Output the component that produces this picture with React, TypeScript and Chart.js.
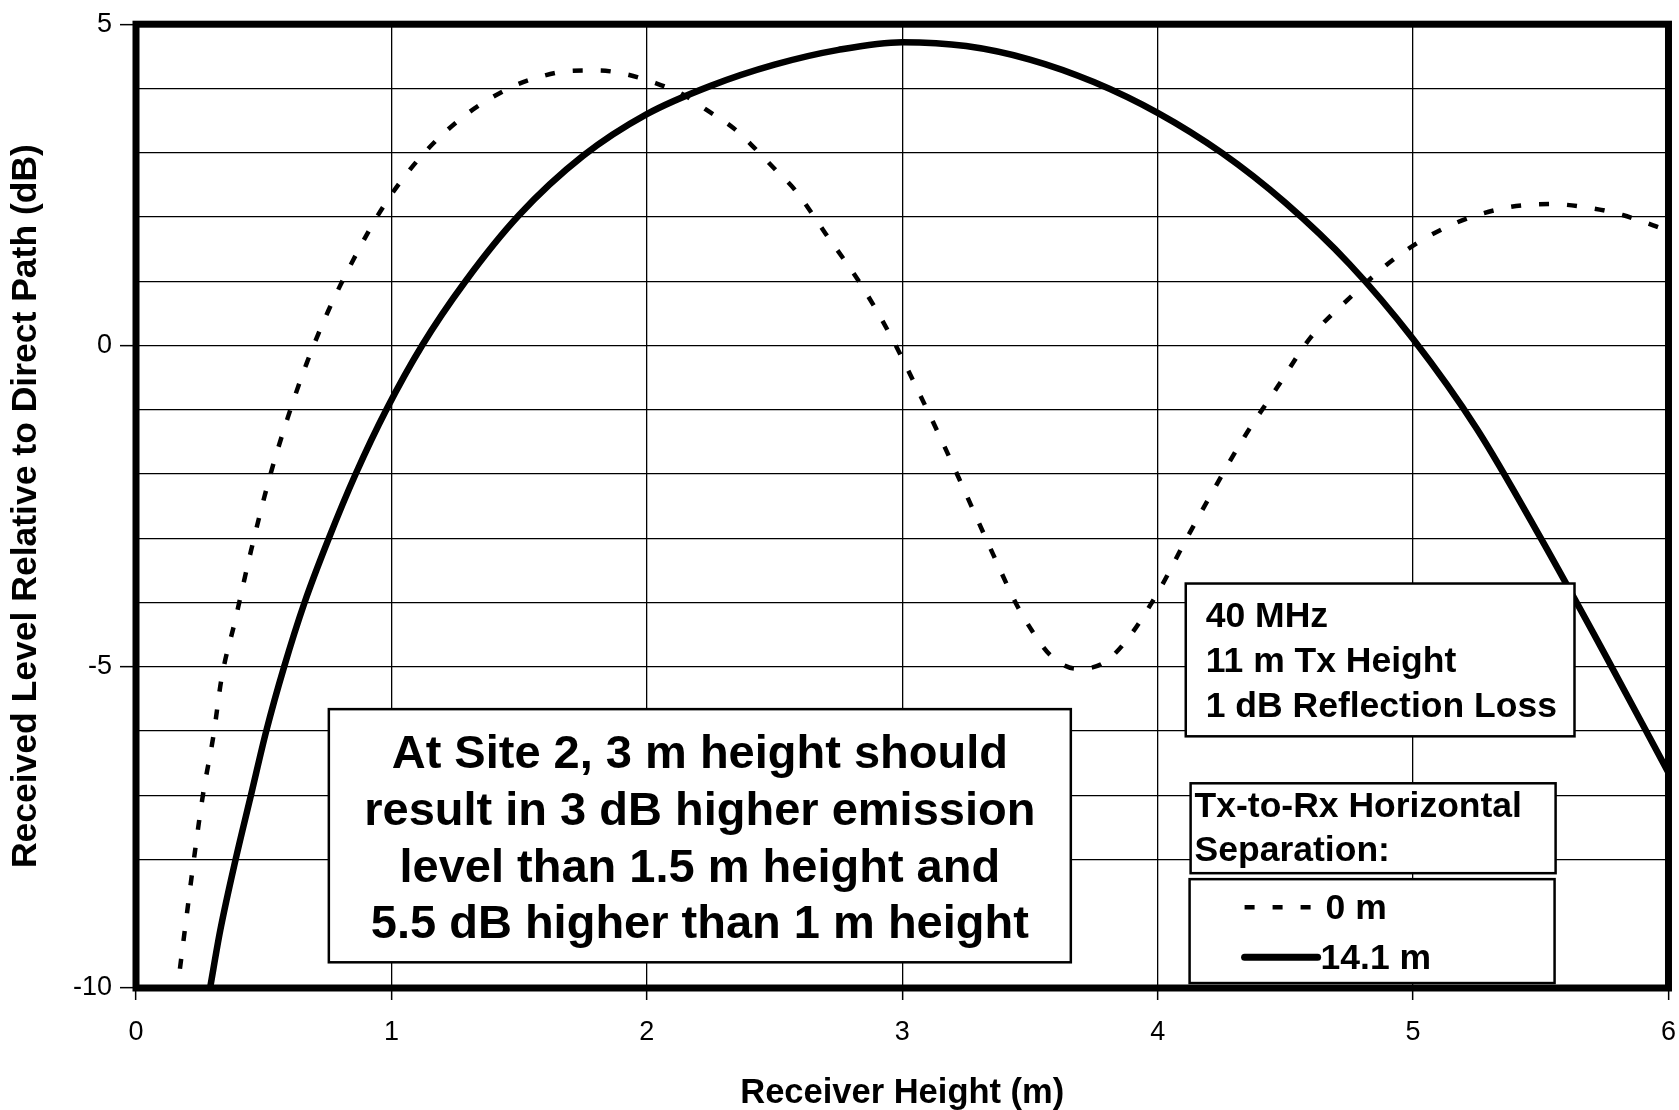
import React, { useEffect, useRef } from 'react';
import { Chart, registerables } from 'chart.js';

Chart.register(...registerables);

// ---- data ----
const X_MIN = 0;
const X_MAX = 6;
const Y_MIN = -10;
const Y_MAX = 5;
const yLabeledTicks = [5, 0, -5, -10];

// 0 m separation (dashed curve)
const sep0X = [0.172, 0.231, 0.263, 0.303, 0.335, 0.387, 0.45, 0.524, 0.592, 0.667, 0.753, 0.853, 0.968, 1.109, 1.275, 1.464, 1.58, 1.69, 1.81, 1.92, 2.03, 2.14, 2.24, 2.34, 2.42, 2.5, 2.58, 2.7, 2.838, 2.956, 3.06, 3.157, 3.255, 3.35, 3.45, 3.51, 3.58, 3.68, 3.78, 3.87, 4.0, 4.11, 4.22, 4.34, 4.47, 4.6, 4.76, 4.94, 5.14, 5.36, 5.54, 5.71, 5.82, 5.94, 6.0];
const sep0Y = [-9.7, -7.87, -6.97, -6.08, -5.18, -4.3, -3.2, -2.04, -1.15, -0.29, 0.54, 1.35, 2.16, 2.91, 3.54, 4.01, 4.18, 4.27, 4.28, 4.22, 4.09, 3.91, 3.65, 3.38, 3.08, 2.75, 2.42, 1.74, 0.95, 0.14, -0.69, -1.5, -2.36, -3.2, -4.05, -4.45, -4.82, -5.03, -4.96, -4.63, -3.85, -3.03, -2.24, -1.42, -0.64, 0.13, 0.77, 1.39, 1.86, 2.14, 2.2, 2.13, 2.03, 1.87, 1.78];

// 14.1 m separation (solid curve)
const sep14X = [0.29, 0.33, 0.39, 0.45, 0.51, 0.58, 0.66, 0.755, 0.86, 0.98, 1.12, 1.29, 1.5, 1.75, 2.0, 2.25, 2.5, 2.75, 3.0, 3.25, 3.5, 3.75, 4.0, 4.25, 4.5, 4.75, 5.0, 5.25, 5.5, 5.75, 6.0];
const sep14Y = [-10, -9.1, -8.0, -7.0, -6.0, -5.0, -4.0, -3.0, -2.0, -1.0, 0, 1, 2.03, 2.95, 3.6, 4.04, 4.37, 4.6, 4.72, 4.66, 4.45, 4.1, 3.62, 3.0, 2.22, 1.27, 0.1, -1.3, -3.0, -4.8, -6.65];

const seriesLabels = ['0 m', '14.1 m'];
const xTitle = 'Receiver Height (m)';
const yTitle = 'Received Level Relative to Direct Path (dB)';
const noteLines = [
  'At Site 2, 3 m height should',
  'result in 3 dB higher emission',
  'level than 1.5 m height and',
  '5.5 dB higher than 1 m height',
];
const infoLines = ['40 MHz', '11 m Tx Height', '1 dB Reflection Loss'];
const legendTitleLines = ['Tx-to-Rx Horizontal', 'Separation:'];

const FONT = '"Liberation Sans", Arial, Helvetica, sans-serif';
const DASH = [10, 18];

function toPoints(xs: number[], ys: number[]) {
  return xs.map((x, i) => ({ x, y: ys[i] }));
}

const framePlugin = {
  id: 'frame',
  afterDatasetsDraw(chart: any) {
    const { ctx, chartArea: a } = chart;
    ctx.save();
    ctx.strokeStyle = '#000';
    ctx.lineWidth = 7;
    ctx.strokeRect(a.left, a.top, a.right - a.left, a.bottom - a.top);
    ctx.restore();
  },
};

function drawBox(ctx: any, xs: any, ys: any, x0: number, x1: number, y0: number, y1: number) {
  const l = xs.getPixelForValue(x0);
  const r = xs.getPixelForValue(x1);
  const t = ys.getPixelForValue(y0);
  const b = ys.getPixelForValue(y1);
  ctx.fillStyle = '#fff';
  ctx.fillRect(l, t, r - l, b - t);
  ctx.strokeStyle = '#000';
  ctx.lineWidth = 2.5;
  ctx.strokeRect(l, t, r - l, b - t);
  return { l, r, t, b };
}

const boxesPlugin = {
  id: 'boxes',
  afterDraw(chart: any) {
    const { ctx } = chart;
    const xs = chart.scales.x;
    const ys = chart.scales.y;
    ctx.save();
    ctx.textBaseline = 'alphabetic';

    // big note box
    const n = drawBox(ctx, xs, ys, 0.755, 3.66, -5.66, -9.6);
    ctx.fillStyle = '#000';
    ctx.font = `bold 47px ${FONT}`;
    ctx.textAlign = 'center';
    const cx = (n.l + n.r) / 2;
    noteLines.forEach((s, i) => ctx.fillText(s, cx, n.t + 59 + i * 56.7));

    // info box
    const inf = drawBox(ctx, xs, ys, 4.11, 5.632, -3.705, -6.083);
    ctx.fillStyle = '#000';
    ctx.font = `bold 35.5px ${FONT}`;
    ctx.textAlign = 'left';
    infoLines.forEach((s, i) => ctx.fillText(s, inf.l + 20, inf.t + 43 + i * 45));

    // legend title box
    const lt = drawBox(ctx, xs, ys, 4.129, 5.558, -6.814, -8.213);
    ctx.fillStyle = '#000';
    ctx.font = `bold 35.5px ${FONT}`;
    legendTitleLines.forEach((s, i) => ctx.fillText(s, lt.l + 4, lt.t + 34 + i * 44));

    // legend entries box
    const lg = drawBox(ctx, xs, ys, 4.125, 5.554, -8.306, -9.923);
    ctx.strokeStyle = '#000';
    ctx.lineWidth = 4.5;
    ctx.setLineDash(DASH);
    ctx.beginPath();
    ctx.moveTo(lg.l + 55, lg.t + 28);
    ctx.lineTo(lg.l + 122, lg.t + 28);
    ctx.stroke();
    ctx.setLineDash([]);
    ctx.lineWidth = 7;
    ctx.lineCap = 'round';
    ctx.beginPath();
    ctx.moveTo(lg.l + 55, lg.t + 78);
    ctx.lineTo(lg.l + 128, lg.t + 78);
    ctx.stroke();
    ctx.fillStyle = '#000';
    ctx.font = `bold 35.5px ${FONT}`;
    ctx.fillText(seriesLabels[0], lg.l + 136, lg.t + 40);
    ctx.fillText(seriesLabels[1], lg.l + 131, lg.t + 90);
    ctx.restore();
  },
};

export default function App() {
  const ref = useRef<HTMLCanvasElement | null>(null);

  useEffect(() => {
    if (!ref.current) return;
    Chart.defaults.font.family = FONT;
    Chart.defaults.color = '#000';
    const chart = new Chart(ref.current, {
      type: 'line',
      data: {
        datasets: [
          {
            label: seriesLabels[0],
            data: toPoints(sep0X, sep0Y),
            borderColor: '#000',
            borderWidth: 4.5,
            borderDash: DASH,
            borderCapStyle: 'butt',
            pointRadius: 0,
            cubicInterpolationMode: 'monotone',
            fill: false,
          },
          {
            label: seriesLabels[1],
            data: toPoints(sep14X, sep14Y),
            borderColor: '#000',
            borderWidth: 6.5,
            pointRadius: 0,
            cubicInterpolationMode: 'monotone',
            fill: false,
          },
        ],
      },
      options: {
        animation: false,
        responsive: true,
        maintainAspectRatio: false,
        layout: { padding: { top: 24, right: 10, left: 0, bottom: 0 } },
        plugins: { legend: { display: false }, tooltip: { enabled: false } },
        scales: {
          x: {
            type: 'linear',
            min: X_MIN,
            max: X_MAX,
            afterFit: (s: any) => { s.height = 122; },
            border: { display: false },
            grid: { color: '#000', lineWidth: 1.3, tickLength: 12, tickColor: '#000', tickWidth: 1.5 },
            ticks: { stepSize: 1, padding: 3, font: { size: 27, lineHeight: 2.22 }, color: '#000' },
            title: {
              display: true,
              text: xTitle,
              font: { size: 34.5, weight: 'bold', lineHeight: 0.95 },
              color: '#000',
              padding: { top: 0, bottom: 0 },
            },
          },
          y: {
            type: 'linear',
            min: Y_MIN,
            max: Y_MAX,
            afterFit: (s: any) => { s.width = 136; },
            border: { display: false },
            grid: {
              color: (c: any) => (c.tick && c.tick.value === -9 ? 'rgba(0,0,0,0)' : '#000'),
              lineWidth: 1.3,
              tickLength: 16,
              tickColor: (c: any) => (c.tick && yLabeledTicks.includes(c.tick.value) ? '#000' : 'rgba(0,0,0,0)'),
              tickWidth: 1.5,
            },
            ticks: {
              stepSize: 1,
              padding: 8,
              font: { size: 27 },
              color: '#000',
              callback: (v: any) => (yLabeledTicks.includes(Number(v)) ? String(v) : ''),
            },
            title: {
              display: true,
              text: yTitle,
              font: { size: 35.5, weight: 'bold', lineHeight: 1.2 },
              color: '#000',
              padding: { top: 5, bottom: 0 },
            },
          },
        },
      },
      plugins: [framePlugin, boxesPlugin],
    } as any);
    return () => chart.destroy();
  }, []);

  return (
    <div style={{ position: 'fixed', left: 0, top: 0, width: '1679px', height: '1110px', background: '#fff' }}>
      <canvas ref={ref} />
    </div>
  );
}
